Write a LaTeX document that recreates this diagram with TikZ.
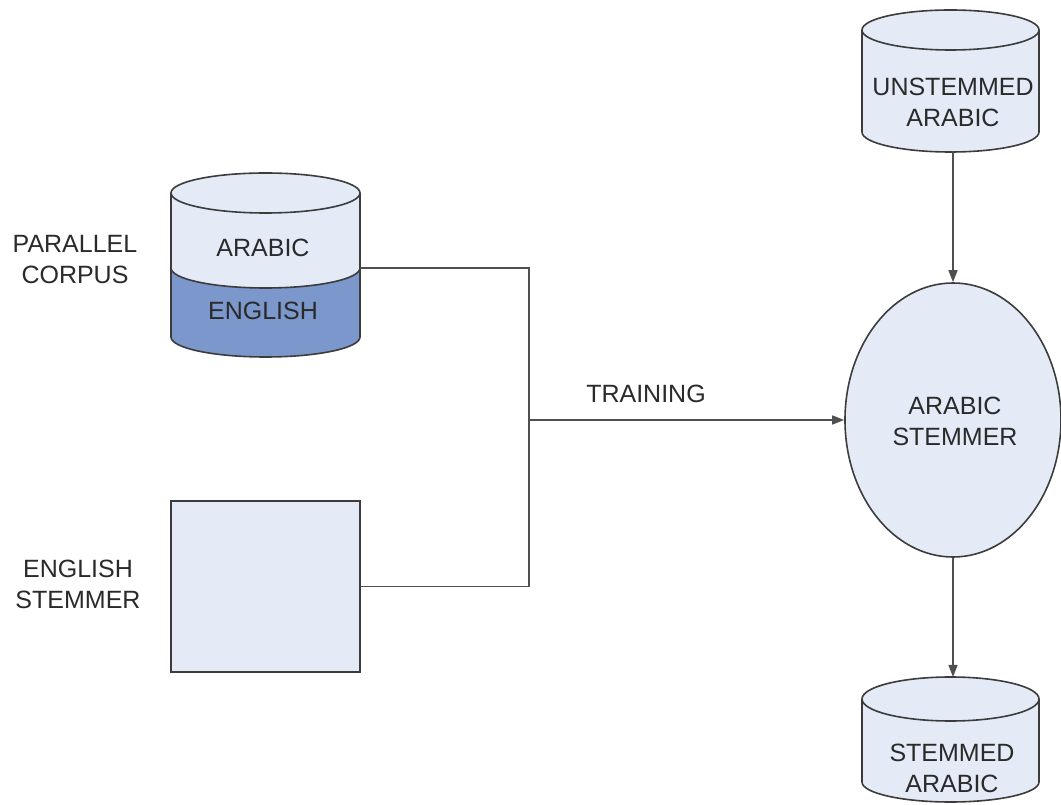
\documentclass[tikz,border=0pt]{standalone}
\usepackage{fontspec}
\setmainfont{Liberation Sans}
\usetikzlibrary{arrows.meta,shapes.geometric}
\definecolor{lightfill}{HTML}{E4EBF6}
\definecolor{darkfill}{HTML}{7C97CB}
\definecolor{edgecol}{HTML}{3C3C3C}
\definecolor{wirecol}{HTML}{505050}
\definecolor{txtcol}{HTML}{2A2A2A}
\begin{document}
\begin{tikzpicture}[x=1pt,y=1pt,
 shapeline/.style={draw=edgecol,line width=1.6pt},
 lbl/.style={font=\fontsize{25}{31}\selectfont,text=txtcol,align=center,inner sep=0pt},
 wire/.style={draw=wirecol,line width=1.4pt},
 arr/.style={wire,-{Triangle[length=12pt,width=9pt]}}]
\useasboundingbox (0,0) rectangle (1061,804);

% parallel corpus cylinder
\fill[darkfill] (171,536) -- (171,467) arc[start angle=180,end angle=360,x radius=94.5,y radius=20] -- (360,536) arc[start angle=0,end angle=-180,x radius=94.5,y radius=20] -- cycle;
\fill[lightfill] (171,611) -- (171,536) arc[start angle=180,end angle=360,x radius=94.5,y radius=20] -- (360,611) -- cycle;
\draw[shapeline] (171,536) arc[start angle=180,end angle=360,x radius=94.5,y radius=20];
\draw[shapeline] (171,611) -- (171,467) arc[start angle=180,end angle=360,x radius=94.5,y radius=20] -- (360,611);
\draw[shapeline,fill=lightfill] (265.5,611) ellipse[x radius=94.5,y radius=20];
\coordinate (pcR) at (360,536);
\node[lbl] (pcA) at (263,556) {ARABIC};
\node[lbl] (pcE) at (263,493) {ENGLISH};
\node[lbl] (pcL) at (75,544) {PARALLEL\\CORPUS};

% english stemmer box
\node[shapeline,fill=lightfill,minimum width=189pt,minimum height=171pt,inner sep=0pt] (es) at (265.5,217.5) {};
\node[lbl] (esL) at (78,220) {ENGLISH\\STEMMER};

% arabic stemmer
\node[ellipse,shapeline,fill=lightfill,minimum width=216pt,minimum height=274pt,inner sep=0pt] (stem) at (953,384) {};
\node[lbl] (stemT) at (955,383) {ARABIC\\STEMMER};

% unstemmed arabic cylinder
\draw[shapeline,fill=lightfill] (862,774) -- (862,672) arc[start angle=180,end angle=360,x radius=88.5,y radius=20] -- (1039,774);
\draw[shapeline,fill=lightfill] (950.5,774) ellipse[x radius=88.5,y radius=20];
\node[lbl] (ucT) at (953,702) {UNSTEMMED\\ARABIC};
\coordinate (ucB) at (953,652.5);

% stemmed arabic cylinder
\draw[shapeline,fill=lightfill] (862,105) -- (862,22) arc[start angle=180,end angle=360,x radius=88.5,y radius=20] -- (1039,105);
\draw[shapeline,fill=lightfill] (950.5,105) ellipse[x radius=88.5,y radius=22];
\node[lbl] (scT) at (952,36) {STEMMED\\ARABIC};
\coordinate (scTop) at (953,127);

% connectors
\coordinate (junc) at (529,384);
\coordinate (jBot) at (529,217.5);
\draw[wire] (pcR) -| (jBot) -- (es.east);
\draw[arr] (junc) -- (stem.west);
\node[lbl] (train) at (646,410) {TRAINING};
\draw[arr] (ucB) -- (stem.north);
\draw[arr] (stem.south) -- (scTop);
\end{tikzpicture}
\end{document}
